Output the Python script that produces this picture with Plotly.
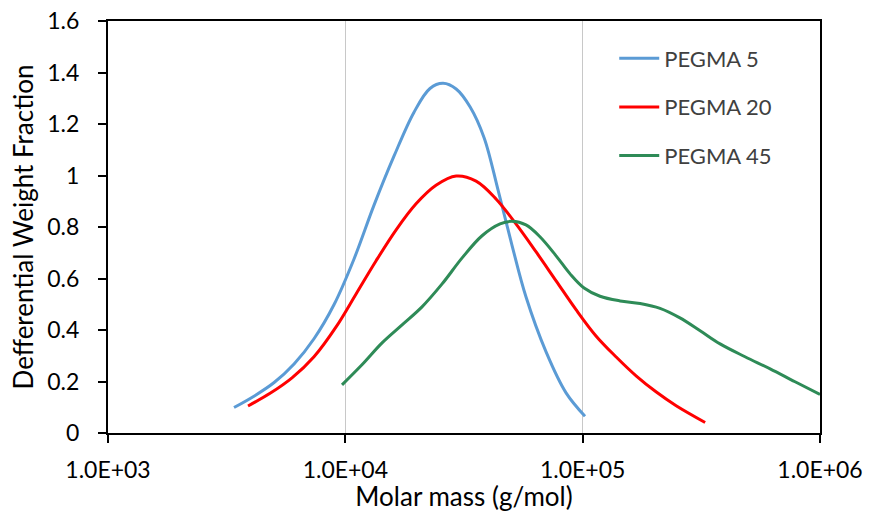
import plotly.graph_objects as go

# Data (x = molar mass g/mol, y = differential weight fraction)
pegma5_x = [3396, 4121, 5012, 6081, 7379, 8954, 10870, 13210, 16030, 19450, 22730,
            25820, 29310, 33570, 38460, 43990, 50350, 57680, 70110, 85110, 102300]
pegma5_y = [0.099, 0.143, 0.196, 0.268, 0.366, 0.498, 0.675, 0.885, 1.075, 1.245, 1.338,
            1.358, 1.336, 1.266, 1.146, 0.944, 0.730, 0.529, 0.315, 0.156, 0.065]

pegma20_x = [3890, 4819, 5960, 7379, 9141, 11100, 13460, 16370, 19860, 24100, 29310,
             35560, 43150, 52360, 63680, 77270, 93760, 113800, 138100, 167900, 203700,
             247700, 328100]
pegma20_y = [0.105, 0.154, 0.214, 0.296, 0.412, 0.540, 0.668, 0.789, 0.890, 0.962, 0.998,
             0.978, 0.909, 0.812, 0.703, 0.591, 0.479, 0.377, 0.296, 0.222, 0.160,
             0.106, 0.041]

pegma45_x = [9683, 11750, 14280, 17340, 21040, 25570, 31050, 37670, 44870, 50350, 57680,
             66070, 77270, 88510, 101400, 118300, 143800, 174600, 211800, 257000, 312600,
             379300, 483100, 616600, 785200, 1000000]
pegma45_y = [0.187, 0.265, 0.350, 0.420, 0.490, 0.579, 0.680, 0.766, 0.812, 0.822, 0.808,
             0.762, 0.688, 0.618, 0.563, 0.531, 0.513, 0.503, 0.484, 0.447, 0.397,
             0.346, 0.296, 0.249, 0.199, 0.150]

series_names = ["PEGMA 5", "PEGMA 20", "PEGMA 45"]
series_colors = ["#5B9BD5", "#FF0000", "#2E8B57"]

x_tickvals = [1e3, 1e4, 1e5, 1e6]
x_ticktext = ["1.0E+03", "1.0E+04", "1.0E+05", "1.0E+06"]

FONT = "Lato, 'Open Sans', sans-serif"

fig = go.Figure()
for name, xs, ys, col in zip(series_names,
                             [pegma5_x, pegma20_x, pegma45_x],
                             [pegma5_y, pegma20_y, pegma45_y],
                             series_colors):
    fig.add_trace(go.Scatter(x=xs, y=ys, mode="lines", name=name,
                             legendgroup=name,
                             line=dict(color=col, width=3, shape="spline", smoothing=1.0)))

fig.update_layout(
    width=869, height=512,
    margin=dict(l=108, r=49, t=21, b=79),
    paper_bgcolor="white", plot_bgcolor="white",
    font=dict(family=FONT, size=23, color="#000000"),
    showlegend=True,
    legend=dict(x=0.711, y=0.96, xanchor="left", yanchor="top",
                font=dict(family=FONT, size=22, color="#404040"),
                bgcolor="rgba(0,0,0,0)", tracegroupgap=17, itemwidth=40),
)

fig.update_xaxes(
    type="log", range=[3, 6], automargin=False,
    tickvals=x_tickvals, ticktext=x_ticktext,
    showgrid=True, gridcolor="#C8C8C8", gridwidth=1,
    showline=True, linecolor="black", linewidth=2, mirror=True,
    ticks="outside", ticklen=8, tickcolor="black", tickwidth=2,
    ticklabelstandoff=7,
    tickfont=dict(family=FONT, size=23, color="#000000"),
    title=dict(text="Molar mass (g/mol)", font=dict(family=FONT, size=26, color="#000000"), standoff=6),
    zeroline=False,
)
fig.update_yaxes(
    range=[0, 1.6], dtick=0.2, tick0=0, automargin=False,
    showgrid=False,
    showline=True, linecolor="black", linewidth=2, mirror=True,
    ticks="outside", ticklen=8, tickcolor="black", tickwidth=2,
    ticklabelstandoff=14,
    tickfont=dict(family=FONT, size=23, color="#000000"),
    title=dict(text="Defferential Weight Fraction", font=dict(family=FONT, size=26, color="#000000"), standoff=6),
    zeroline=False,
)

fig.write_html("out.html")
